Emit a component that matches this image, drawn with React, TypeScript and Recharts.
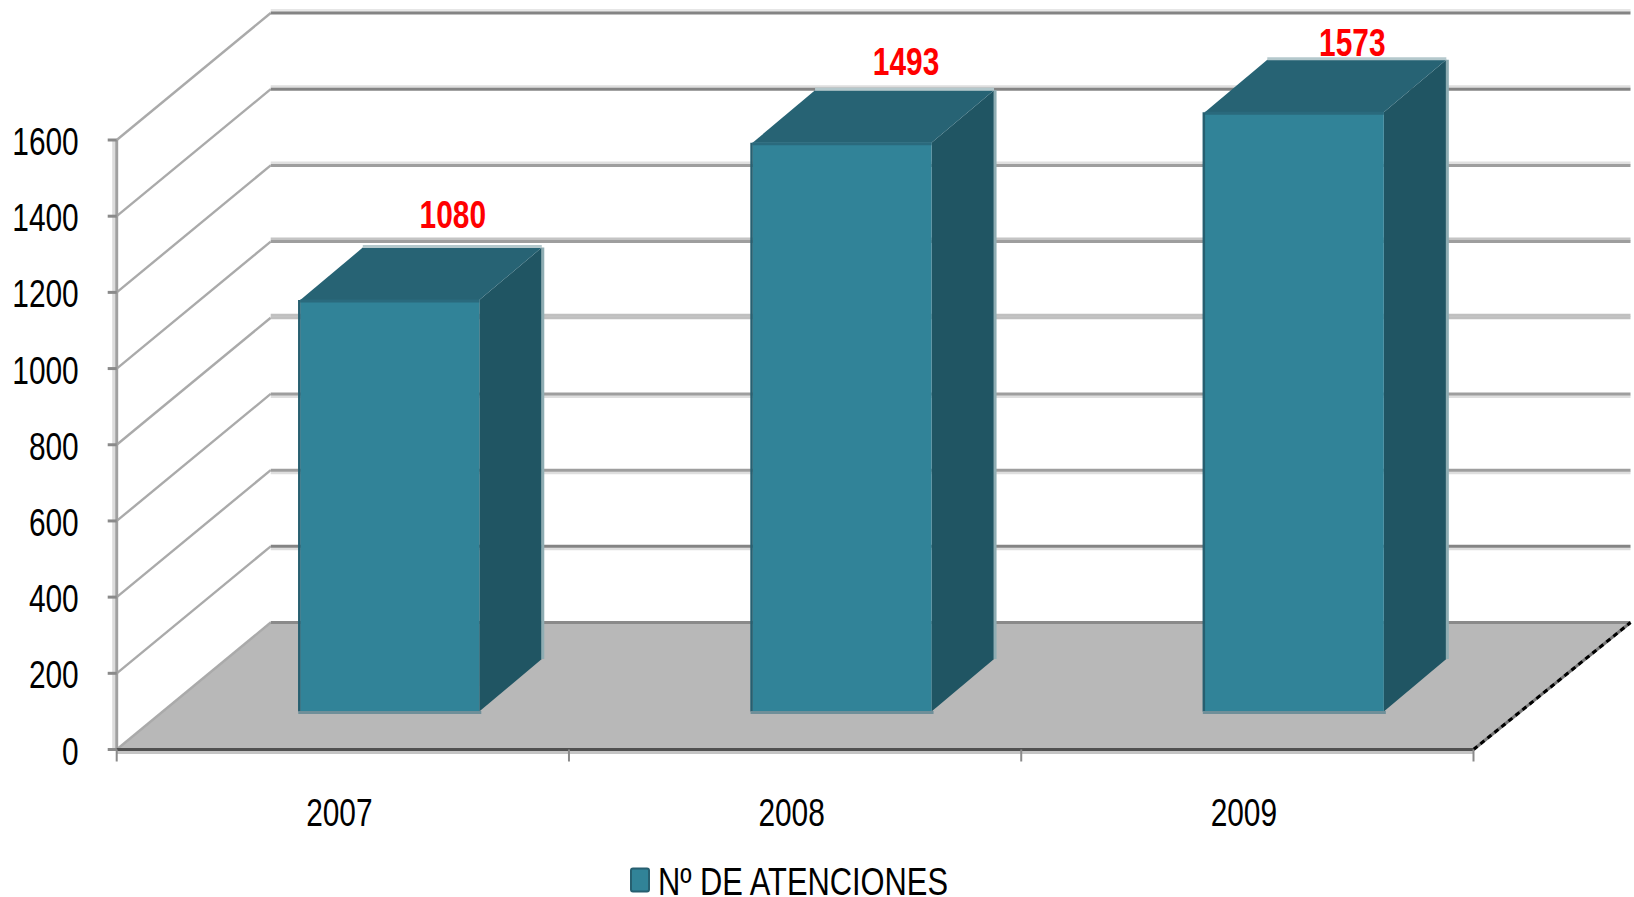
import { BarChart, Bar, XAxis, YAxis, CartesianGrid, Legend, LabelList } from "recharts";

const years = ["2007", "2008", "2009"];
const atenciones = [1080, 1493, 1573];
const yTicks = [0, 200, 400, 600, 800, 1000, 1200, 1400, 1600];
const seriesName = "Nº DE ATENCIONES";

const data = years.map((year, i) => ({ year, atenciones: atenciones[i] }));

// fake 3D: how far the back wall sits behind the front plane, and where the bars sit in that depth
const WALL_DX = 154;
const WALL_DY = 127;
const WALL_END = 3;
const BAR_IN_X = 47;
const BAR_IN_Y = 38;
const BAR_DX = 62.5;
const BAR_DY = 52.5;

// the labels were nudged by hand in the original
const LABEL_DX = [63, 64, 58];
const LABEL_DY = [-86, -81.5, -69.5];

// wall lines are unevenly aliased in the original, bottom (0) to top (1600)
const LINE_DARK = ["#8a8a8a", "#848484", "#9e9e9e", "#9e9e9e", "#c0c0c0", "#9e9e9e", "#9e9e9e", "#848484", "#848484"];
const LINE_SOFT = ["none", "#dedede", "#dedede", "#dedede", "#c0c0c0", "#c4c4c4", "#e0e0e0", "#dedede", "#e6e6e6"];
const SOFT_BELOW = [false, true, true, true, false, false, false, false, false];

const FONT = '"Liberation Sans", Arial, sans-serif';
const FONT_SIZE = 39;
const DIGIT_W = 16.6;
const FRONT = "#318398";
const SIDE = "#205563";
const TOP = "#276374";

function WallLine(props: any) {
  const { x1, x2, y1, index } = props;
  const bx = x1 + WALL_DX;
  const by = y1 - WALL_DY;
  const ex = x2 + WALL_DX + WALL_END;
  const isFloor = index === 0;
  return (
    <g key={`wall-${y1}`}>
      {isFloor && <polygon points={`${x1},${y1} ${bx},${by} ${ex},${by} ${x2},${y1}`} fill="#b8b8b8" />}
      <line x1={x1} y1={y1} x2={bx} y2={by} stroke="#aaaaaa" strokeWidth={2.4} />
      <line
        x1={bx}
        y1={by + (SOFT_BELOW[index] ? 2.5 : -2.5)}
        x2={ex}
        y2={by + (SOFT_BELOW[index] ? 2.5 : -2.5)}
        stroke={LINE_SOFT[index]}
        strokeWidth={3}
      />
      <line x1={bx} y1={by} x2={ex} y2={by} stroke={LINE_DARK[index]} strokeWidth={3} />
      {isFloor && (
        <>
          <line x1={x2} y1={y1} x2={ex} y2={by} stroke="#777" strokeWidth={3} />
          <line x1={x2} y1={y1} x2={ex} y2={by} stroke="#000" strokeWidth={3} strokeDasharray="5 4" />
          <line x1={x1} y1={y1 + 3} x2={x2} y2={y1 + 3} stroke="#c4c4c4" strokeWidth={3} />
          <line x1={x1 - 3} y1={y1} x2={x1 - 3} y2={y1 - 609} stroke="#dcdcdc" strokeWidth={3} />
        </>
      )}
    </g>
  );
}

function Bar3D(props: any) {
  const { x, y, width, height } = props;
  const fx = x + BAR_IN_X;
  const fy = y - BAR_IN_Y;
  const fr = fx + width;
  const fb = fy + height;
  return (
    <g>
      <polygon
        points={`${fr},${fy} ${fr + BAR_DX},${fy - BAR_DY} ${fr + BAR_DX},${fb - BAR_DY} ${fr},${fb}`}
        fill={SIDE}
      />
      <polygon
        points={`${fx},${fy} ${fx + BAR_DX},${fy - BAR_DY} ${fr + BAR_DX},${fy - BAR_DY} ${fr},${fy}`}
        fill={TOP}
      />
      <rect x={fx} y={fy} width={width} height={height} fill={FRONT} />
      <line x1={fx} y1={fy + 1} x2={fr} y2={fy + 1} stroke="#2a6a7d" strokeWidth={3} />
      <line x1={fx - 1} y1={fy} x2={fx - 1} y2={fb} stroke="#275f70" strokeWidth={2.5} />
      <line x1={fx - 2} y1={fb + 1} x2={fr + 2} y2={fb + 1} stroke="#6f8f99" strokeWidth={3} />
      <line x1={fr + BAR_DX + 1} y1={fy - BAR_DY} x2={fr + BAR_DX + 1} y2={fb - BAR_DY} stroke="#8fadb3" strokeWidth={3} />
      <line x1={fx + BAR_DX} y1={fy - BAR_DY - 1} x2={fr + BAR_DX} y2={fy - BAR_DY - 1} stroke="#b4c8cc" strokeWidth={3} />
    </g>
  );
}

function ValueLabel(props: any) {
  const { x, y, width, value, index } = props;
  return (
    <text
      x={x + width / 2 + BAR_IN_X + LABEL_DX[index]}
      y={y - BAR_IN_Y + LABEL_DY[index]}
      textAnchor="middle"
      dominantBaseline="central"
      fill="#ff0000"
      fontFamily={FONT}
      fontWeight="bold"
      fontSize={FONT_SIZE}
      textLength={String(value).length * DIGIT_W}
      lengthAdjust="spacingAndGlyphs"
    >
      {value}
    </text>
  );
}

function CountTick(props: any) {
  const { x, y, payload } = props;
  const label = String(payload.value);
  return (
    <text
      x={x}
      y={y + 1.5}
      textAnchor="end"
      dominantBaseline="central"
      fontFamily={FONT}
      fontSize={FONT_SIZE}
      fill="#000"
      textLength={label.length * DIGIT_W}
      lengthAdjust="spacingAndGlyphs"
    >
      {label}
    </text>
  );
}

// tick marks sit between the categories, the labels in the middle
function YearTick(props: any) {
  const { x, y, payload, index, width } = props;
  const band = width / years.length;
  return (
    <g>
      <line x1={x - band / 2} y1={y - 8} x2={x - band / 2} y2={y + 4} stroke="#8a8a8a" strokeWidth={2} />
      {index === years.length - 1 && (
        <line x1={x + band / 2} y1={y - 8} x2={x + band / 2} y2={y + 4} stroke="#8a8a8a" strokeWidth={2} />
      )}
      <text
        x={x - 3.5}
        y={812}
        textAnchor="middle"
        dominantBaseline="central"
        fontFamily={FONT}
        fontSize={FONT_SIZE}
        fill="#000"
        textLength={4 * DIGIT_W}
        lengthAdjust="spacingAndGlyphs"
      >
        {payload.value}
      </text>
    </g>
  );
}

function LegendBox() {
  return (
    <svg width={340} height={50} style={{ position: "absolute", left: 630, top: -41 }}>
      <rect x={1} y={12.5} width={18} height={23} rx={2} fill={FRONT} stroke="#275f70" strokeWidth={2} />
      <text
        x={28}
        y={25}
        dominantBaseline="central"
        fontFamily={FONT}
        fontSize={FONT_SIZE}
        fill="#000"
        textLength={290}
        lengthAdjust="spacingAndGlyphs"
      >
        {seriesName}
      </text>
    </svg>
  );
}

export default function App() {
  return (
    <div style={{ position: "absolute", left: 0, top: 0, width: 1634, height: 897, background: "#fff" }}>
      <BarChart
        width={1634}
        height={897}
        data={data}
        barCategoryGap="30.2%"
        margin={{ top: 140, right: 160.5, bottom: 0, left: 0 }}
      >
        <CartesianGrid vertical={false} horizontal={WallLine} />
        <YAxis
          type="number"
          domain={[0, 1600]}
          ticks={yTicks}
          width={116.7}
          tickSize={9}
          tickMargin={29}
          axisLine={{ stroke: "#a0a0a0", strokeWidth: 3 }}
          tickLine={{ stroke: "#8a8a8a", strokeWidth: 3 }}
          tick={CountTick}
          interval={0}
        />
        <XAxis
          dataKey="year"
          height={147.5}
          tickLine={false}
          axisLine={{ stroke: "#505050", strokeWidth: 3 }}
          tick={YearTick}
          interval={0}
        />
        <Legend verticalAlign="bottom" content={LegendBox} wrapperStyle={{ height: 0 }} />
        <Bar dataKey="atenciones" name={seriesName} shape={Bar3D} isAnimationActive={false}>
          <LabelList dataKey="atenciones" content={ValueLabel} />
        </Bar>
      </BarChart>
    </div>
  );
}
